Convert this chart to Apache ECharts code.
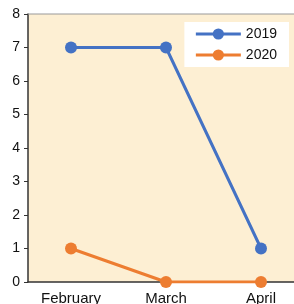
<!DOCTYPE html>
<html>
<head>
<meta charset="utf-8">
<script src="https://cdn.jsdelivr.net/npm/echarts@6/dist/echarts.min.js"></script>
<style>
html, body { margin: 0; padding: 0; background: #fff; }
#chart { width: 294px; height: 304px; }
</style>
</head>
<body>
<div id="chart"></div>
<script>
const months = ["February", "March", "April"]
const values2019 = [7, 7, 1]
const values2020 = [1, 0, 0]
const yTicks = [0, 1, 2, 3, 4, 5, 6, 7, 8]

const toPoints = vals => vals.map((v, i) => [i, v])

const chart = echarts.init(document.getElementById("chart"))
const lineSeries = (name, data, color) => ({
	name,
	type: "line",
	data: toPoints(data),
	symbol: "circle",
	symbolSize: 12,
	lineStyle: { width: 3, color },
	itemStyle: { color },
	emphasis: { disabled: true },
	z: 3,
})

chart.setOption({
	animation: false,
	textStyle: { fontFamily: "Liberation Sans, Arial, sans-serif" },
	grid: {
		left: 28,
		right: 0,
		top: 14,
		bottom: 22,
		outerBoundsMode: "none",
		show: true,
		backgroundColor: "#fdefd3",
		borderWidth: 0,
	},
	legend: {
		right: 5,
		top: 22,
		orient: "vertical",
		itemWidth: 45,
		itemHeight: 14,
		itemGap: 7,
		padding: [5, 12, 5, 10],
		backgroundColor: "#ffffff",
		lineStyle: { width: 3 },
		textStyle: { fontSize: 14, color: "#111" },
		data: ["2019", "2020"],
	},
	xAxis: {
		type: "value",
		min: -43 / 95,
		max: -43 / 95 + 266 / 95,
		interval: 1,
		splitLine: { show: false },
		axisLine: { show: true, onZero: false, lineStyle: { color: "#333", width: 1.5 } },
		axisTick: { show: false },
		axisLabel: {
			fontSize: 15,
			color: "#111",
			margin: 9,
			customValues: months.map((m, i) => i),
			formatter: v => months[Math.round(v)] || "",
		},
	},
	yAxis: {
		type: "value",
		min: 0,
		max: 8,
		interval: 1,
		splitLine: { show: false },
		axisLine: { show: true, onZero: false, lineStyle: { color: "#333", width: 1.5 } },
		axisTick: { show: true, length: 4, lineStyle: { color: "#333" } },
		axisLabel: {
			fontSize: 14,
			color: "#111",
			margin: 8,
			formatter: v => (yTicks.includes(v) ? String(v) : ""),
		},
	},
	graphic: [
		{
			type: "line",
			shape: { x1: 28, y1: 14, x2: 294, y2: 14 },
			style: { stroke: "#999", lineWidth: 1 },
			z: 1,
		},
	],
	series: [
		lineSeries("2019", values2019, "#4472c4"),
		lineSeries("2020", values2020, "#ed7d31"),
	],
})
</script>
</body>
</html>
